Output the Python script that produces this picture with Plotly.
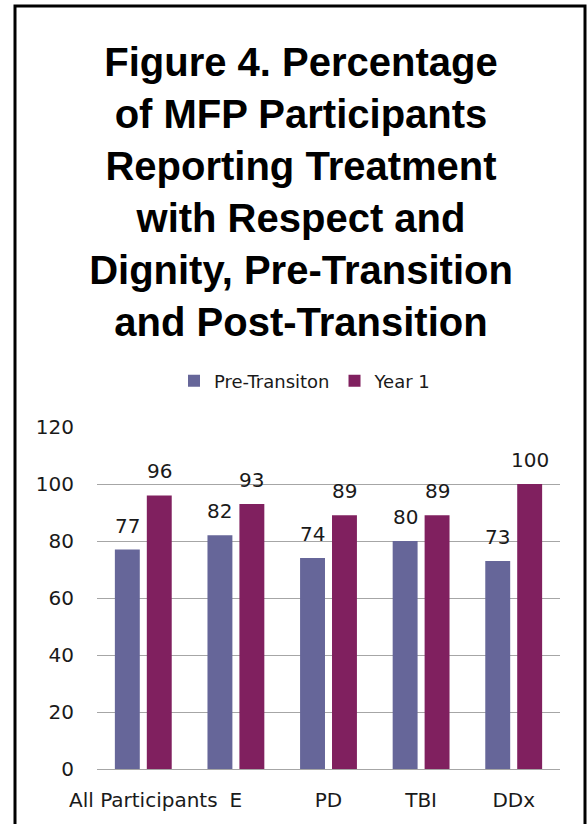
import plotly.graph_objects as go

categories = ["All Participants", "E", "PD", "TBI", "DDx"]
pre_transition = [77, 82, 74, 80, 73]
year_1 = [96, 93, 89, 89, 100]
series_names = ["Pre-Transiton", "Year 1"]
y_ticks = [0, 20, 40, 60, 80, 100, 120]

W, H = 587, 824
L, R, T, B = 97, 560, 427, 769  # plot area in page pixels


def px_x(x):
    return (x - L) / (R - L)


def px_y(y):
    return (B - y) / (B - T)


colors = ["#666699", "#80205F"]
label_font = dict(family="DejaVu Sans", size=20, color="#1a1a1a")

fig = go.Figure()
for name, vals, col in zip(series_names, [pre_transition, year_1], colors):
    fig.add_trace(go.Bar(x=categories, y=vals, name=name,
                         marker=dict(color=col, line=dict(width=0))))

bargap, bargroupgap = 0.31, 0.22
cat_px = (R - L) / len(categories)
slot_px = cat_px * (1 - bargap) / 2
for k, vals in enumerate([pre_transition, year_1]):
    shift = (k - 0.5) * slot_px
    for c, v in zip(categories, vals):
        fig.add_annotation(x=c, y=v, text=str(v), showarrow=False,
                           xshift=shift, yshift=24, yanchor="middle",
                           font=label_font)

fig.update_layout(
    width=W, height=H,
    margin=dict(l=L, r=W - R, t=T, b=H - B, pad=0),
    paper_bgcolor="white", plot_bgcolor="white",
    barmode="group", bargap=bargap, bargroupgap=bargroupgap,
    title=dict(
        text="Figure 4. Percentage<br>of MFP Participants<br>Reporting Treatment<br>with Respect and<br>Dignity, Pre-Transition<br>and Post-Transition",
        font=dict(family="Liberation Sans", size=40, color="black", weight="bold"),
        x=301 / W, xanchor="center", xref="container",
        y=1 - 76 / H, yanchor="top", yref="container",
    ),
    legend=dict(
        orientation="h", x=px_x(305), xanchor="center", y=px_y(381), yanchor="middle",
        font=dict(family="DejaVu Sans", size=18, color="#1a1a1a"),
        itemwidth=30, traceorder="normal", bgcolor="rgba(0,0,0,0)",
    ),
    showlegend=True,
    font=dict(family="DejaVu Sans", color="#1a1a1a"),
)
fig.update_yaxes(range=[0, 120], tickvals=y_ticks, showgrid=True, gridcolor="#A6A6A6",
                 gridwidth=1, zeroline=True, zerolinecolor="#A6A6A6", zerolinewidth=1,
                 showline=False, ticks="", ticklabelstandoff=22,
                 tickfont=dict(family="DejaVu Sans", size=20, color="#1a1a1a"))
fig.update_xaxes(showgrid=False, showline=False, ticks="", ticklabelstandoff=17,
                 tickfont=dict(family="DejaVu Sans", size=20, color="#1a1a1a"))

fig.add_shape(type="rect", xref="paper", yref="paper",
              x0=px_x(15), x1=px_x(585), y0=px_y(860), y1=px_y(6),
              line=dict(color="black", width=3), fillcolor="rgba(0,0,0,0)", layer="above")

fig.write_html(
    "out.html",
    config={"displayModeBar": False},
    post_script="document.body.style.margin='0px';document.body.style.overflow='hidden';",
)
